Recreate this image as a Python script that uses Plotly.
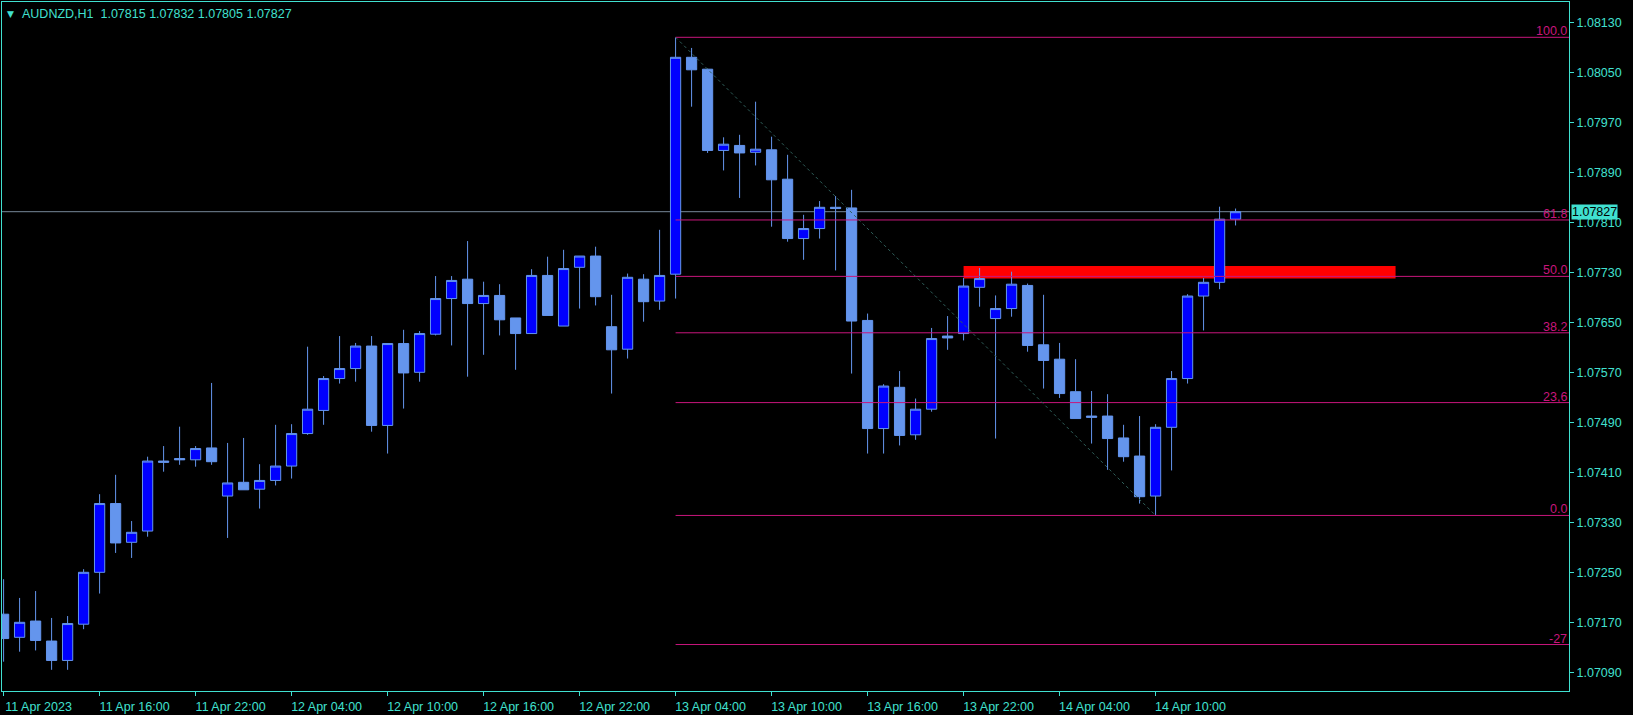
import pandas as pd
import plotly.graph_objects as go

# ---------------- data ----------------
start_time = "2023-04-11 10:00"

opens = [1.07183, 1.07146, 1.07172, 1.07140, 1.07109, 1.07167, 1.07250, 1.07360, 1.07298, 1.07316,
         1.07428, 1.07432, 1.07430, 1.07449, 1.07372, 1.07394, 1.07383, 1.07397, 1.07420, 1.07472,
         1.07509, 1.07560, 1.07576, 1.07612, 1.07485, 1.07616, 1.07570, 1.07631, 1.07688, 1.07719,
         1.07680, 1.07693, 1.07657, 1.07632, 1.07725, 1.07644, 1.07738, 1.07756, 1.07643, 1.07607,
         1.07719, 1.07684, 1.07727, 1.08074, 1.08055, 1.07925, 1.07933, 1.07922, 1.07926, 1.07879,
         1.07784, 1.07800, 1.07834, 1.07833, 1.07653, 1.07480, 1.07546, 1.07470, 1.07511, 1.07628,
         1.07632, 1.07706, 1.07656, 1.07672, 1.07709, 1.07614, 1.07591, 1.07539, 1.07500, 1.07500,
         1.07465, 1.07436, 1.07372, 1.07482, 1.07560, 1.07692, 1.07714, 1.07815]
highs = [1.07239, 1.07209, 1.07220, 1.07177, 1.07180, 1.07255, 1.07375, 1.07406, 1.07332, 1.07435,
         1.07452, 1.07483, 1.07452, 1.07553, 1.07457, 1.07465, 1.07423, 1.07486, 1.07487, 1.07611,
         1.07564, 1.07628, 1.07617, 1.07628, 1.07616, 1.07638, 1.07636, 1.07724, 1.07724, 1.07780,
         1.07715, 1.07711, 1.07657, 1.07735, 1.07755, 1.07766, 1.07756, 1.07771, 1.07694, 1.07728,
         1.07727, 1.07798, 1.08106, 1.08089, 1.08056, 1.07946, 1.07950, 1.08003, 1.07947, 1.07918,
         1.07822, 1.07844, 1.07852, 1.07862, 1.07664, 1.07551, 1.07572, 1.07528, 1.07641, 1.07660,
         1.07721, 1.07737, 1.07693, 1.07731, 1.07712, 1.07694, 1.07617, 1.07591, 1.07540, 1.07535,
         1.07486, 1.07500, 1.07487, 1.07572, 1.07695, 1.07721, 1.07835, 1.07832]
lows = [1.07107, 1.07123, 1.07125, 1.07094, 1.07094, 1.07159, 1.07216, 1.07281, 1.07273, 1.07307,
        1.07411, 1.07422, 1.07419, 1.07422, 1.07305, 1.07382, 1.07352, 1.07389, 1.07400, 1.07470,
        1.07486, 1.07552, 1.07555, 1.07475, 1.07440, 1.07512, 1.07555, 1.07629, 1.07613, 1.07563,
        1.07598, 1.07629, 1.07574, 1.07632, 1.07661, 1.07644, 1.07672, 1.07677, 1.07536, 1.07592,
        1.07651, 1.07670, 1.07688, 1.07995, 1.07921, 1.07893, 1.07849, 1.07901, 1.07803, 1.07779,
        1.07750, 1.07784, 1.07733, 1.07568, 1.07440, 1.07440, 1.07453, 1.07462, 1.07507, 1.07606,
        1.07621, 1.07675, 1.07464, 1.07659, 1.07603, 1.07544, 1.07529, 1.07496, 1.07456, 1.07414,
        1.07427, 1.07360, 1.07341, 1.07413, 1.07552, 1.07637, 1.07703, 1.07805]
closes = [1.07144, 1.07170, 1.07141, 1.07109, 1.07168, 1.07250, 1.07360, 1.07297, 1.07314, 1.07428,
          1.07426, 1.07430, 1.07448, 1.07427, 1.07393, 1.07382, 1.07397, 1.07420, 1.07472, 1.07511,
          1.07560, 1.07576, 1.07612, 1.07485, 1.07616, 1.07569, 1.07632, 1.07688, 1.07717, 1.07680,
          1.07693, 1.07654, 1.07632, 1.07725, 1.07661, 1.07736, 1.07756, 1.07691, 1.07606, 1.07722,
          1.07683, 1.07725, 1.08074, 1.08054, 1.07925, 1.07935, 1.07921, 1.07927, 1.07878, 1.07784,
          1.07800, 1.07834, 1.07832, 1.07652, 1.07480, 1.07548, 1.07469, 1.07511, 1.07624, 1.07625,
          1.07708, 1.07720, 1.07672, 1.07711, 1.07613, 1.07589, 1.07536, 1.07496, 1.07498, 1.07464,
          1.07435, 1.07371, 1.07482, 1.07560, 1.07692, 1.07714, 1.07815, 1.07827]

tick_hours = [0, 6, 12, 18, 24, 30, 36, 42, 48, 54, 60, 66, 72]
tick_labels = ["11 Apr 2023", "11 Apr 16:00", "11 Apr 22:00", "12 Apr 04:00", "12 Apr 10:00",
               "12 Apr 16:00", "12 Apr 22:00", "13 Apr 04:00", "13 Apr 10:00", "13 Apr 16:00",
               "13 Apr 22:00", "14 Apr 04:00", "14 Apr 10:00"]
price_ticks = [1.07090, 1.07170, 1.07250, 1.07330, 1.07410, 1.07490, 1.07570, 1.07650,
               1.07730, 1.07810, 1.07890, 1.07970, 1.08050, 1.08130]

fib_ratios = [1.0, 0.618, 0.5, 0.382, 0.236, 0.0, -0.27]
fib_labels = ["100.0", "61.8", "50.0", "38.2", "23,6", "0.0", "-27"]
fib_high_bar = 42
fib_low_bar = 72

zone_start_bar = 60
zone_end_bar = 87
zone_low = 1.07720
zone_high = 1.07740

view_hours = [-0.1, 97.84]
price_range = [1.070601, 1.081625]

# ---------------- styles ----------------
BG = "#000000"
AXIS = "#40E0D0"
BULL = "#0000FF"
WICK = "#6495ED"
FIB = "#C8167C"
PRICE_LINE = "#778899"
DIAG = "#2F5F5A"
FONT = "Liberation Sans"

t0 = pd.Timestamp(start_time)
times = pd.date_range(t0, periods=len(opens), freq="h")
def at(h):
    return t0 + pd.Timedelta(hours=h)

fig = go.Figure()

fig.add_trace(go.Candlestick(
    x=times, open=opens, high=highs, low=lows, close=closes,
    increasing=dict(line=dict(color=WICK, width=1), fillcolor=BULL),
    decreasing=dict(line=dict(color=WICK, width=1), fillcolor=WICK),
    whiskerwidth=0, hoverinfo="skip",
))

# Fibonacci retracement
fhi = highs[fib_high_bar]
flo = lows[fib_low_bar]
x_end = at(view_hours[1])
for r in fib_ratios:
    lvl = flo + r * (fhi - flo)
    fig.add_trace(go.Scatter(x=[times[fib_high_bar], x_end], y=[lvl, lvl], mode="lines",
                             line=dict(color=FIB, width=1), hoverinfo="skip"))
fig.add_trace(go.Scatter(x=[times[fib_high_bar], times[fib_low_bar]], y=[fhi, flo], mode="lines",
                         line=dict(color=DIAG, width=1, dash="dot"), hoverinfo="skip"))

shapes = [
    dict(type="rect", xref="x", yref="y", x0=at(zone_start_bar), x1=at(zone_end_bar),
         y0=zone_low, y1=zone_high, fillcolor="#FF0000", line=dict(width=0), layer="below"),
    dict(type="line", xref="paper", yref="y", x0=0, x1=1, y0=closes[-1], y1=closes[-1],
         line=dict(color=PRICE_LINE, width=1), layer="below"),
]

annotations = []
for r, lab in zip(fib_ratios, fib_labels):
    lvl = flo + r * (fhi - flo)
    annotations.append(dict(x=1, xref="paper", y=lvl, yref="y", text=lab, showarrow=False,
                            xanchor="right", yanchor="bottom", xshift=-1, yshift=-2,
                            font=dict(family=FONT, size=12.5, color=FIB), borderpad=0))
annotations.append(dict(x=1, xref="paper", y=closes[-1], yref="y",
                        text=f"{closes[-1]:.5f}", showarrow=False, xanchor="left", yanchor="middle",
                        xshift=2, bgcolor=AXIS, borderpad=0,
                        font=dict(family=FONT, size=12.5, color="#000000")))
annotations.append(dict(x=0, xref="paper", y=1, yref="paper", text="▼", showarrow=False,
                        xanchor="left", yanchor="top", xshift=3, yshift=-5,
                        font=dict(family="DejaVu Sans", size=9, color=AXIS)))
annotations.append(dict(x=0, xref="paper", y=1, yref="paper",
                        text=f"AUDNZD,H1  {opens[-1]:.5f} {highs[-1]:.5f} {lows[-1]:.5f} {closes[-1]:.5f}",
                        showarrow=False, xanchor="left", yanchor="top", xshift=18, yshift=-3,
                        font=dict(family=FONT, size=12.5, color=AXIS)))

fig.update_layout(
    width=1633, height=715,
    margin=dict(l=2, r=64, t=2, b=24, autoexpand=False),
    paper_bgcolor=BG, plot_bgcolor=BG,
    showlegend=False,
    boxgap=0.36, boxgroupgap=0,
    shapes=shapes, annotations=annotations,
    xaxis=dict(
        type="date", range=[at(view_hours[0]), at(view_hours[1])],
        rangeslider=dict(visible=False),
        tickvals=[at(h) for h in tick_hours], ticktext=tick_labels,
        ticks="outside", ticklen=4, tickcolor=AXIS, ticklabelshift=35,
        showline=True, linecolor=AXIS, linewidth=1, mirror=True,
        showgrid=False, zeroline=False,
        tickfont=dict(family=FONT, size=12.5, color=AXIS),
    ),
    yaxis=dict(
        side="right", range=price_range,
        tickvals=price_ticks, tickformat=".5f",
        ticks="outside", ticklen=4, tickcolor=AXIS,
        showline=True, linecolor=AXIS, linewidth=1, mirror=True,
        showgrid=False, zeroline=False,
        tickfont=dict(family=FONT, size=12.5, color=AXIS),
    ),
)

fig.write_html("out.html",
               config={"displayModeBar": False},
               post_script="document.body.style.margin='0px';document.body.style.padding='0px';")
